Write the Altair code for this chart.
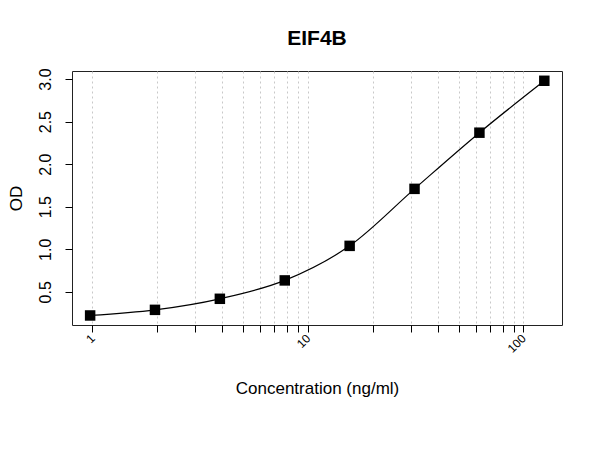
import altair as alt
import pandas as pd

# standard curve readings
concentration = [0.977, 1.953, 3.906, 7.8125, 15.625, 31.25, 62.5, 125.0]
od = [0.222, 0.288, 0.418, 0.634, 1.04, 1.71, 2.37, 2.98]

x_ticks = [1, 2, 3, 4, 5, 6, 7, 8, 9, 10, 20, 30, 40, 50, 60, 70, 80, 90, 100]
x_labels = [1, 10, 100]
y_ticks = [0.5, 1.0, 1.5, 2.0, 2.5, 3.0]

df = pd.DataFrame({"conc": concentration, "od": od})

FONT = "Liberation Sans"

x_enc = alt.X(
    "conc:Q",
    scale=alt.Scale(type="log", domain=[0.805, 151], nice=False, zero=False),
    axis=alt.Axis(
        values=x_ticks,
        labelExpr="indexof([1, 10, 100], datum.value) >= 0 ? datum.label : ''",
        format="d",
        labelAngle=-45,
        labelAlign="right",
        labelBaseline="middle",
        labelPadding=4,
        labelFontSize=12,
        labelFont=FONT,
        labelColor="black",
        labelOverlap=False,
        labelFlush=False,
        tickSize=7,
        tickColor="black",
        domain=False,
        grid=True,
        gridDash=[2, 3],
        gridColor="#c8c8c8",
        gridWidth=1,
        title="Concentration (ng/ml)",
        titleFont=FONT,
        titleFontSize=17,
        titleFontWeight="normal",
        titleColor="black",
        titleBaseline="alphabetic",
        titleY=68,
    ),
)

y_enc = alt.Y(
    "od:Q",
    scale=alt.Scale(domain=[0.11, 3.095], nice=False, zero=False),
    axis=alt.Axis(
        values=y_ticks,
        format=".1f",
        labelAngle=270,
        labelAlign="center",
        labelBaseline="alphabetic",
        labelPadding=15,
        labelFontSize=16,
        labelFont=FONT,
        labelColor="black",
        labelFlush=False,
        labelOverlap=False,
        tickSize=7,
        tickColor="black",
        domain=False,
        grid=False,
        title="OD",
        titleFont=FONT,
        titleFontSize=17,
        titleFontWeight="normal",
        titleColor="black",
        titleAngle=270,
        titleAlign="center",
        titleBaseline="alphabetic",
        titleX=-51,
        titleY=127,
    ),
)

base = alt.Chart(df)

curve = base.mark_line(color="black", strokeWidth=1.2, interpolate="monotone").encode(
    x=x_enc, y=y_enc
)

points = base.mark_square(color="black", opacity=1, size=110).encode(
    x="conc:Q", y="od:Q"
)

chart = (
    alt.layer(curve, points)
    .properties(
        width=490,
        height=254,
        autosize=alt.AutoSizeParams(type="none"),
        padding={"left": 64, "top": 63, "right": 30, "bottom": 117},
        title=alt.TitleParams(
            "EIF4B",
            font=FONT,
            fontSize=21,
            fontWeight="bold",
            color="black",
            anchor="middle",
            baseline="alphabetic",
            offset=2,
        ),
    )
    .configure(background="white")
    .configure_view(stroke="#222222", strokeWidth=1)
)

chart.save("out.html", embed_options={"renderer": "svg", "actions": False})
